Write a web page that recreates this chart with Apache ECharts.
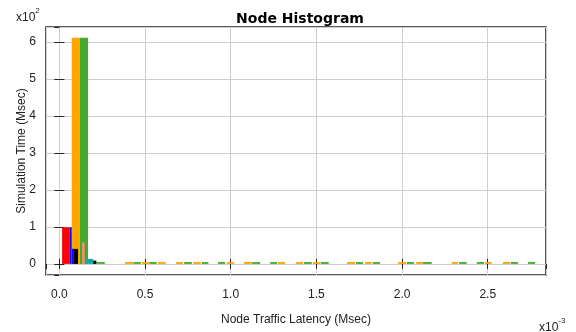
<!DOCTYPE html>
<html>
<head>
<meta charset="utf-8">
<script src="https://cdn.jsdelivr.net/npm/echarts@6/dist/echarts.min.js"></script>
<style>html,body{margin:0;padding:0;background:#fff;}#c{width:576px;height:332px;}</style>
</head>
<body>
<div id="c"></div>
<script>
// Values: x in units of 1e-3 Msec, y in units of 1e2 Msec. Each bar: [binStart, binEnd, value]
const titleText = 'Node Histogram';
const xName = 'Node Traffic Latency (Msec)';
const yName = 'Simulation Time (Msec)';
const xExpLabel = ['x10', '-3'];
const yExpLabel = ['x10', '2'];

const redBars = [[0.016, 0.061, 0.99]];
const blueBars = [[0.061, 0.072, 0.99], [0.074, 0.084, 0.41]];
const orangeBars = [
  [0.072, 0.119, 6.11],
  [0.383, 0.430, 0.05], [0.481, 0.523, 0.05], [0.576, 0.621, 0.05], [0.681, 0.722, 0.05],
  [0.782, 0.825, 0.05], [0.977, 1.020, 0.05], [1.078, 1.123, 0.05], [1.276, 1.317, 0.05],
  [1.381, 1.422, 0.05], [1.480, 1.521, 0.05], [1.679, 1.726, 0.05], [1.784, 1.823, 0.05],
  [1.977, 2.023, 0.05], [2.082, 2.121, 0.05], [2.290, 2.327, 0.05], [2.484, 2.523, 0.05],
  [2.588, 2.630, 0.05]
];
const greenBars = [
  [0.119, 0.167, 6.11], [0.216, 0.265, 0.05],
  [0.432, 0.475, 0.05], [0.525, 0.568, 0.05], [0.728, 0.773, 0.05], [0.831, 0.870, 0.05],
  [0.926, 0.967, 0.05], [1.125, 1.172, 0.05], [1.230, 1.271, 0.05], [1.428, 1.473, 0.05],
  [1.525, 1.572, 0.05], [1.731, 1.772, 0.05], [1.829, 1.871, 0.05], [2.027, 2.070, 0.05],
  [2.122, 2.173, 0.05], [2.333, 2.377, 0.05], [2.436, 2.479, 0.05], [2.634, 2.677, 0.05],
  [2.735, 2.776, 0.05]
];
const blackBars = [[0.084, 0.109, 0.405], [0.197, 0.216, 0.09]];
const salmonBars = [[0.132, 0.148, 0.58]];
const cyanBars = [[0.158, 0.197, 0.135]];

const xRange = [-0.078, 2.84];
const yRange = [-0.3, 6.4];

const chart = echarts.init(document.getElementById('c'), null, {renderer: 'canvas'});

function renderBar(params, api) {
  const x0 = api.value(0), x1 = api.value(1), v = api.value(2);
  const p0 = api.coord([x0, v]);
  const p1 = api.coord([x1, 0]);
  return {
    type: 'rect',
    shape: {x: p0[0], y: p0[1], width: p1[0] - p0[0], height: p1[1] - p0[1]},
    style: {fill: api.visual('color')}
  };
}
function barSeries(data, color, z) {
  return {
    type: 'custom', renderItem: renderBar, data: data, z: z,
    itemStyle: {color: color}, encode: {x: [0, 1], y: 2}, silent: true, animation: false
  };
}

const labelFont = {fontFamily: 'Liberation Sans, Arial, sans-serif', fontSize: 12, color: '#222'};

chart.setOption({
  animation: false,
  backgroundColor: '#fff',
  title: {
    text: titleText, left: 295, top: 7, textAlign: 'center',
    textStyle: {fontFamily: 'DejaVu Sans', fontWeight: 'bold', fontSize: 14, color: '#000'}
  },
  grid: {left: 46, right: 30, top: 27, bottom: 57, show: true, borderColor: '#222', borderWidth: 1.5, backgroundColor: 'transparent'},
  xAxis: [{
    type: 'value', min: xRange[0], max: xRange[1], splitNumber: 5, position: 'bottom',
    name: xName, nameLocation: 'middle', nameGap: 39, nameMoveOverlap: false, nameTextStyle: labelFont,
    axisLine: {show: false},
    axisTick: {show: true, inside: true, length: 5, lineStyle: {color: '#222'}},
    axisLabel: Object.assign({margin: 14, showMinLabel: false, showMaxLabel: false,
      formatter: v => (Math.abs(v * 2 - Math.round(v * 2)) < 1e-6 ? v.toFixed(1) : '')}, labelFont),
    splitLine: {show: true, lineStyle: {color: '#cfcfcf', width: 1}}
  }, {
    type: 'value', min: xRange[0], max: xRange[1], splitNumber: 5, position: 'top',
    axisLine: {show: false},
    axisTick: {show: true, inside: true, length: 5, lineStyle: {color: '#222'}},
    axisLabel: {show: false}, splitLine: {show: false}
  }],
  yAxis: [{
    type: 'value', min: yRange[0], max: yRange[1], splitNumber: 7, position: 'left',
    name: yName, nameLocation: 'middle', nameGap: 18, nameMoveOverlap: false, nameTextStyle: labelFont,
    axisLine: {show: false},
    axisTick: {show: true, inside: true, length: 5, lineStyle: {color: '#222'}},
    axisLabel: Object.assign({margin: 10, showMinLabel: false, showMaxLabel: false,
      formatter: v => (Math.abs(v - Math.round(v)) < 1e-6 ? String(Math.round(v)) : '')}, labelFont),
    splitLine: {show: true, lineStyle: {color: '#cfcfcf', width: 1}}
  }, {
    type: 'value', min: yRange[0], max: yRange[1], splitNumber: 7, position: 'right',
    axisLine: {show: false},
    axisTick: {show: true, inside: true, length: 5, lineStyle: {color: '#222'}},
    axisLabel: {show: false}, splitLine: {show: false}
  }],
  graphic: [{
    type: 'text', left: 16, top: 7,
    style: {
      text: '{b|' + yExpLabel[0] + '}{s|' + yExpLabel[1] + '}',
      rich: {
        b: {fontFamily: 'Liberation Sans', fontSize: 12, fill: '#222', verticalAlign: 'bottom', padding: [5, 0, 0, 0]},
        s: {fontFamily: 'Liberation Sans', fontSize: 8, fill: '#222', verticalAlign: 'top'}
      }
    }
  }, {
    type: 'text', left: 539, top: 317,
    style: {
      text: '{b|' + xExpLabel[0] + '}{s|' + xExpLabel[1] + '}',
      rich: {
        b: {fontFamily: 'Liberation Sans', fontSize: 12, fill: '#222', verticalAlign: 'bottom', padding: [5, 0, 0, 0]},
        s: {fontFamily: 'Liberation Sans', fontSize: 8, fill: '#222', verticalAlign: 'top'}
      }
    }
  }],
  series: [
    barSeries(redBars, '#ff0000', 2),
    barSeries(orangeBars, '#ffa500', 2),
    barSeries(greenBars, '#44aa2e', 2),
    barSeries(blueBars, '#0000ff', 3),
    barSeries(blackBars, '#000000', 3),
    barSeries(salmonBars, '#e8907a', 3),
    barSeries(cyanBars, '#10a8b0', 3)
  ]
});
</script>
</body>
</html>
